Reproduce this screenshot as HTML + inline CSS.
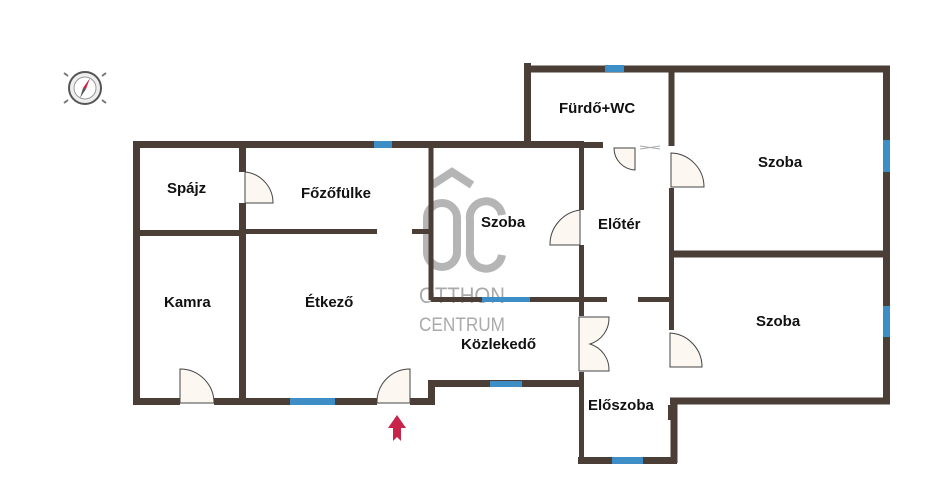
<!DOCTYPE html>
<html><head><meta charset="utf-8"><style>
html,body{margin:0;padding:0;background:#fff;}
svg{display:block}
text{font-family:"Liberation Sans",sans-serif;font-weight:bold;font-size:15px;fill:#111;}
</style></head><body>
<svg width="927" height="500" viewBox="0 0 927 500" xmlns="http://www.w3.org/2000/svg">
<!-- watermark -->
<g fill="none" stroke="#a9a9a9" stroke-width="8" opacity="0.85">
<path d="M432 185 L452 172 L472 185"/>
<rect x="427" y="203" width="30" height="64" rx="15"/>
<path d="M502 215 A16 16 0 0 0 470 220 L470 250 A16 16 0 0 0 502 255"/>
</g>
<text x="419" y="303" textLength="86" lengthAdjust="spacingAndGlyphs" style="font-weight:normal;font-size:22px;fill:#aaa">OTTHON</text>
<text x="419" y="331" textLength="86" lengthAdjust="spacingAndGlyphs" style="font-weight:normal;font-size:19px;fill:#aaa">CENTRUM</text>

<g stroke="#4b3e37" stroke-linecap="butt" fill="none">
<path d="M136.5 141 V404.5" stroke-width="7"/>
<path d="M133 144.5 H584" stroke-width="7"/>
<path d="M133 401.5 H180 M214 401.5 H377 M410 401.5 H432" stroke-width="7"/>
<path d="M431.5 405 V383" stroke-width="7"/>
<path d="M428 383.5 H584" stroke-width="7"/>
<path d="M140 233 H242" stroke-width="6"/>
<path d="M242.5 148 V172 M242.5 203 V398" stroke-width="7"/>
<path d="M246 231.5 H377 M412 231.5 H430" stroke-width="5"/>
<path d="M431 148 V300" stroke-width="5"/>
<path d="M431 299.5 H607 M638 299.5 H670" stroke-width="5"/>
<path d="M581.5 141 V210 M581.5 245 V316 M581.5 372 V463" stroke-width="5"/>
<path d="M578 460.5 H677" stroke-width="7"/>
<path d="M674 463 V400" stroke-width="7"/>
<path d="M670.5 405 V420" stroke-width="5"/>
<path d="M527.5 63 V148" stroke-width="7"/>
<path d="M524 69 H890" stroke-width="7"/>
<path d="M524 145 H603" stroke-width="6"/>
<path d="M671.5 66 V146" stroke-width="6"/>
<path d="M886.5 66 V404" stroke-width="7"/>
<path d="M670 254 H890" stroke-width="7"/>
<path d="M671.5 188 V330" stroke-width="5"/>
<path d="M670 401 H890" stroke-width="7"/>
</g>
<g fill="#3d8ec6">
<rect x="374" y="141" width="18" height="7"/>
<rect x="290" y="398" width="45" height="7"/>
<rect x="490" y="381" width="32" height="6"/>
<rect x="482" y="297" width="48" height="5"/>
<rect x="605" y="65" width="19" height="7"/>
<rect x="612" y="457" width="31" height="7"/>
<rect x="883" y="140" width="7" height="32"/>
<rect x="883" y="306" width="7" height="31"/>
</g>
<g fill="#fcf7f0" stroke="#444" stroke-width="1">
<path d="M245 172 V203 H273 A31 31 0 0 0 245 172 Z"/>
<path d="M180 403 V369 A34 34 0 0 1 214 403 Z"/>
<path d="M410 403 V369 A33 33 0 0 0 377 403 Z"/>
<path d="M580 210 V245 H550 A35 35 0 0 1 580 210 Z"/>
<path d="M614 148 H635 V170 A22 22 0 0 1 614 148 Z"/>
<path d="M671 153 V187 H704 A34 34 0 0 0 671 153 Z"/>
<path d="M670 333 V367 H702 A34 34 0 0 0 670 333 Z"/>
<path d="M579 317 H609 A27 27 0 0 1 590 344 A27 27 0 0 1 609 371 H579 Z"/>
</g>
<path d="M640 146 L660 149 M640 149 L660 146" stroke="#aaa" stroke-width="1"/>
<text x="167" y="193">Spájz</text>
<text x="301" y="198">Főzőfülke</text>
<text x="164" y="307">Kamra</text>
<text x="305" y="307">Étkező</text>
<text x="481" y="227">Szoba</text>
<text x="461" y="349">Közlekedő</text>
<text x="559" y="113">Fürdő+WC</text>
<text x="598" y="229">Előtér</text>
<text x="758" y="167">Szoba</text>
<text x="756" y="326">Szoba</text>
<text x="588" y="410">Előszoba</text>
<path d="M397 415 L406 428 L401 428 L401 441 L397 437 L393 441 L393 428 L388 428 Z" fill="#c8244a"/>
<g>
<circle cx="85" cy="88" r="16" fill="#eee" stroke="#555" stroke-width="2"/>
<circle cx="85" cy="88" r="11" fill="#fff" stroke="#999" stroke-width="1"/>
<path d="M90 78 L86 89 L83 88 Z" fill="#c8244a"/>
<path d="M83 88 L86 89 L80 98 Z" fill="#555"/>
<path d="M64 73 L68 76 M106 73 L102 76 M64 103 L68 100 M106 103 L102 100" stroke="#777" stroke-width="2"/>
</g>
</svg>
</body></html>
